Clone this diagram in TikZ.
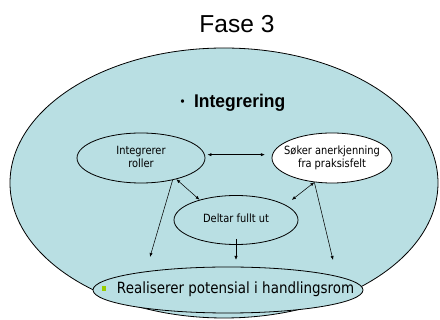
\documentclass[tikz,border=0pt]{standalone}
\usepackage{fontspec}
\setmainfont{Liberation Sans}
\newfontfamily\smalfont[FakeStretch=0.87]{DejaVu Sans}
\newfontfamily\temafont[FakeStretch=0.95]{Liberation Sans}
\usetikzlibrary{shapes.geometric,arrows.meta}

\definecolor{fasebla}{RGB}{185,223,227}
\definecolor{punktgronn}{RGB}{153,204,0}

\newcommand{\smaltekst}[1]{\makebox[0pt]{\begin{tabular}{@{}c@{}}#1\end{tabular}}}

\begin{document}
\begin{tikzpicture}[
    x=0.75pt, y=-0.75pt,
    every node/.style={ellipse, draw, line width=0.6pt, inner sep=0pt},
    >={Latex[length=3pt,width=2.4pt]}
]

\tikzset{rolle/.style={fill=#1, font=\smalfont\fontsize{8.5}{9.8}\selectfont}}
\tikzset{pil/.style={line width=0.4pt}}

\useasboundingbox (0,0) rectangle (440,320);

% ================= Fase =================

\node[fill=fasebla, minimum width=321pt, minimum height=202.5pt] (fase) at (224,183) {};

\node[draw=none, rectangle, anchor=base, font=\fontsize{18.4}{22}\selectfont] (tittel) at (237,33) {Fase 3};
\node[draw=none, rectangle, anchor=base, font=\temafont\bfseries\fontsize{13.8}{16}\selectfont] (tema) at (233,108)
    {\raisebox{2.2pt}{\fontsize{9}{9}\selectfont\textbullet}\hspace{7pt}Integrering};

% ================= Roller =================

\node[rolle=fasebla, minimum width=96pt, minimum height=37.5pt] (roller)  at (141,158) {\smaltekst{Integrerer\\roller}};
\node[rolle=white,   minimum width=90pt, minimum height=37.5pt] (praksis) at (332,158) {\smaltekst{Søker anerkjenning\\fra praksisfelt}};
\node[rolle=fasebla, minimum width=93pt, minimum height=36.75pt] (deltar) at (236,220) {\smaltekst{Deltar fullt ut}};

\node[fill=fasebla, minimum width=202.5pt, minimum height=34.5pt, font=\smalfont\fontsize{11.6}{13}\selectfont] (real) at (228,290)
    {\smaltekst{{\color{punktgronn}\raisebox{2.2pt}{\rule{3.4pt}{3.4pt}}}\hspace{8pt}Realiserer potensial i handlingsrom}};

\coordinate (venstre) at (150,257);
\coordinate (hoyre)   at (333,260);

% ================= Piler =================

\draw[pil, <->, shorten <=1.5pt, shorten >=5pt] ([yshift=2.5pt]roller.east) -- ([yshift=2.5pt]praksis.west);
\draw[pil, <->] (roller.-31) -- (deltar.151);
\draw[pil, <->, shorten >=6pt] (praksis.-126) -- (deltar.17);
\draw[pil, ->] (roller.-35) -- (venstre);
\draw[pil, ->] (praksis.-126) -- (hoyre);
\draw[pil, ->, shorten >=5pt] ([yshift=4.5pt]deltar.south) -- (deltar.south |- real.north);

\end{tikzpicture}
\end{document}
